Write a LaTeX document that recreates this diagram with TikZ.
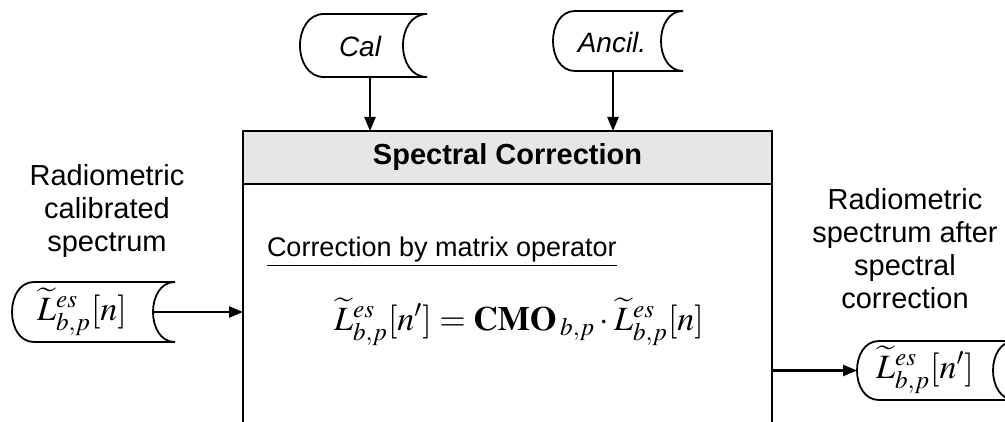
\documentclass[tikz,border=0pt]{standalone}
\usepackage{mathptmx}
\usepackage[no-math]{fontspec}
\setmainfont{Liberation Sans}
\usetikzlibrary{arrows.meta}
\definecolor{hdrgray}{HTML}{E6E6E6}
\newcommand\storepath[2]{%
  \draw[shapeline] ([xshift=#2]#1.north west) -- (#1.north east)
    .. controls ([xshift=-1.333*#2]#1.north east) and ([xshift=-1.333*#2]#1.south east) .. (#1.south east)
    -- ([xshift=#2]#1.south west)
    .. controls ([xshift=-#2/3]#1.south west) and ([xshift=-#2/3]#1.north west) .. cycle;}
\tikzset{
  every node/.style={inner sep=0pt, outer sep=0pt},
  shapebox/.style={minimum width=#1, inner sep=0pt},
  shapeline/.style={line width=0.9pt, fill=white},
  lbl/.style={align=center, font=\fontsize{14.5pt}{16.5pt}\selectfont},
  itxt/.style={font=\fontsize{14pt}{16pt}\selectfont\itshape},
  mth/.style={font=\fontsize{17pt}{19pt}\selectfont},
  arr/.style={line width=1.2pt, -{Triangle[length=7pt,width=5.5pt]}},
  boxline/.style={line width=1.2pt},
}
\begin{document}
\begin{tikzpicture}[x=0.5pt,y=-0.5pt]
\useasboundingbox (0,0) rectangle (1005,422);
\clip (0,0) rectangle (1005,422);
% main block
\node[boxline, draw, fill=hdrgray, minimum width=264.5pt, minimum height=26.5pt,
      font=\fontsize{14.5pt}{16.5pt}\selectfont\bfseries] (hdr) at (507.5,157.5) {Spectral Correction};
\node[boxline, draw, minimum width=264.5pt, minimum height=150pt, anchor=north] (body) at (hdr.south) {};
% stored data shapes
\node[shapebox=63.5pt, minimum height=31.5pt] (calS) at (363.5,45.5) {};
\storepath{calS}{12pt}
\node[itxt] (calT) at (360,46) {Cal};
\node[shapebox=65pt, minimum height=30pt] (ancS) at (618,41) {};
\storepath{ancS}{11pt}
\node[itxt] (ancT) at (612,42) {Ancil.};
\node[shapebox=81.5pt, minimum height=30pt] (inS) at (93.5,312) {};
\storepath{inS}{11pt}
\node[mth] (inT) at (82,312) {$\widetilde{L}^{es}_{b,p}[n]$};
\node[shapebox=79pt, minimum height=29.5pt] (outS) at (936,370.5) {};
\storepath{outS}{11pt}
\node[mth] (outT) at (925,370) {$\widetilde{L}^{es}_{b,p}[n']$};
% labels
\node[lbl] (inL) at (107,211) {Radiometric\\calibrated\\spectrum};
\node[lbl] (outL) at (905,249) {Radiometric\\spectrum after\\spectral\\correction};
\node[font=\fontsize{13.5pt}{15pt}\selectfont, anchor=west] (sub) at (267,252) {\underline{Correction by matrix operator}};
\node[mth] (eq) at (519,322)
  {$\widetilde{L}^{es}_{b,p}[n'] = \mathbf{CMO}\,{}_{b,p}\cdot\widetilde{L}^{es}_{b,p}[n]$};
% connectors
\draw[arr] ([xshift=3.25pt]calS.south) -- ([xshift=3.25pt]calS.south |- hdr.north);
\draw[arr] ([xshift=-2.5pt]ancS.south) -- ([xshift=-2.5pt]ancS.south |- hdr.north);
\draw[arr] ([xshift=-11pt]inS.east) -- (inS.east -| body.west);
\draw[arr] (outS.west -| body.east) -- (outS.west);
\end{tikzpicture}
\end{document}
